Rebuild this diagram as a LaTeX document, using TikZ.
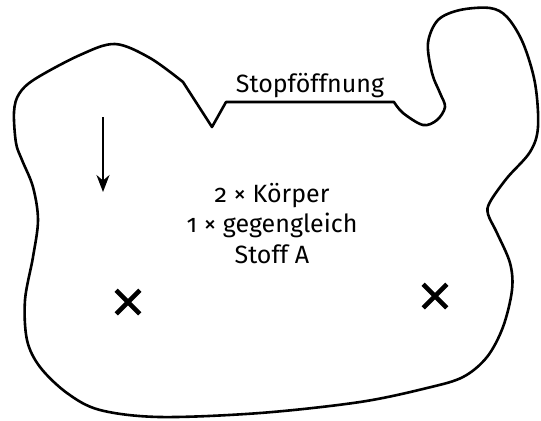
\documentclass[tikz,border=0pt]{standalone}
\usepackage{fontspec}
\setmainfont{Fira Sans}[Numbers=OldStyle]
\usetikzlibrary{arrows.meta,positioning,shapes.misc}

\begin{document}
\begin{tikzpicture}[x=0.5pt,y=-0.5pt,line join=round,
  outline/.style={line width=1.3pt},
  beschriftung/.style={font=\fontsize{12.5}{15}\selectfont,text height=9pt,text depth=3pt,inner sep=0pt},
  kreuz/.style={cross out,draw,line width=2.3pt,minimum size=9.5pt,inner sep=0pt},
  node distance=15.25pt]
\useasboundingbox (0,0) rectangle (541,420);

% Umriss des Hohlraums
\draw[outline] plot[smooth,tension=0.55] coordinates {(394,102) (403,113) (423,125) (437,120) (445,107)
  (440,93) (432,73) (428,43) (438,20) (460,10) (490,8) (507,17) (523,43) (535,83) (538,127)
  (530,152) (507,178) (490,202) (488,214) (497,233) (510,263) (512,290) (503,327) (487,357)
  (463,377) (427,388) (360,402) (260,413) (160,417) (100,410) (67,393) (40,367) (27,340)
  (25,300) (33,257) (38,220) (33,187) (22,160) (16,143) (14,112) (19,94) (35,79) (80,55)
  (115,44) (150,58) (183,82)}
  -- (212,127) -- (226,102) -- cycle;

\node[beschriftung] (stop) at (310,86) {Stopföffnung};

\node[beschriftung] (koerper) at (272,196) {2 × Körper};
\node[beschriftung] (gegen) [below of=koerper] {1 × gegengleich};
\node[beschriftung] (stoff) [below of=gegen] {Stoff A};

\node[kreuz] (links) at (128,302) {};
\node[kreuz] (rechts) at (435,296) {};

\coordinate (pfeilanfang) at (103,117);
\coordinate (pfeilende) at (103,192);
\draw[-{Stealth[length=8.5pt,width=6.5pt]},line width=1pt] (pfeilanfang) -- (pfeilende);
\end{tikzpicture}
\end{document}
